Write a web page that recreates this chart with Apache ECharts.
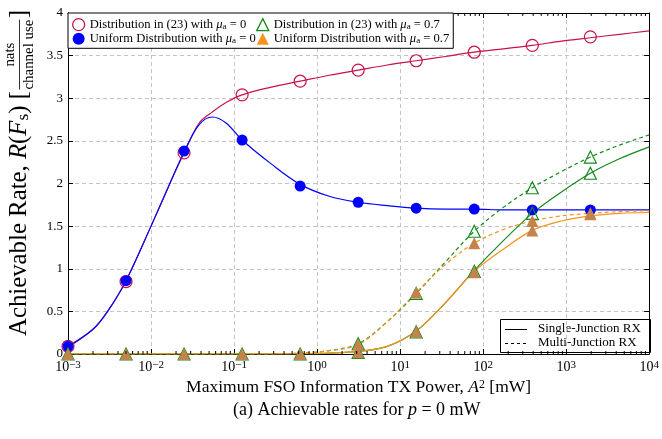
<!DOCTYPE html>
<html>
<head>
<meta charset="utf-8">
<script src="https://cdn.jsdelivr.net/npm/echarts@6/dist/echarts.min.js"></script>
<style>
  html, body { margin: 0; padding: 0; background: #fff; }
  #chart { width: 662px; height: 439px; }
</style>
</head>
<body>
<div id="chart"></div>
<script>
// x where the markers sit (mW)
var markerX = [0.001, 0.005, 0.025, 0.125, 0.625, 3.125, 15.6, 78.1, 390.6, 1953];
var curveX = [0.001, 0.002, 0.003, 0.005, 0.01, 0.0165, 0.025, 0.038, 0.055, 0.08, 0.125, 0.28, 0.625,
              1.4, 3.125, 7, 15.6, 35, 78.1, 175, 390.6, 875, 1953, 4375, 10000];

// curves (values at curveX)
var distMu0Line   = [0.08, 0.29, 0.50, 0.86, 1.50, 1.98, 2.36, 2.71, 2.84, 2.95, 3.04, 3.13, 3.20,
                     3.27, 3.33, 3.39, 3.44, 3.49, 3.54, 3.58, 3.62, 3.67, 3.71, 3.75, 3.79];
var unifMu0Line   = [0.09, 0.29, 0.50, 0.86, 1.50, 1.98, 2.37, 2.69, 2.78, 2.71, 2.51, 2.23, 1.99,
                     1.85, 1.78, 1.74, 1.71, 1.70, 1.70, 1.69, 1.69, 1.69, 1.69, 1.69, 1.69];
var distMu07Single = [0, 0, 0, 0, 0, 0, 0, 0, 0, 0, 0, 0, 0.003,
                      0.01, 0.03, 0.09, 0.27, 0.60, 0.98, 1.33, 1.65, 1.90, 2.12, 2.29, 2.43];
var distMu07Multi  = [0, 0, 0, 0, 0, 0, 0, 0, 0, 0, 0, 0.002, 0.01,
                      0.04, 0.12, 0.38, 0.71, 1.08, 1.44, 1.72, 1.95, 2.14, 2.31, 2.45, 2.57];
var unifMu07Single = [0, 0, 0, 0, 0, 0, 0, 0, 0, 0, 0, 0, 0.003,
                      0.01, 0.03, 0.09, 0.27, 0.60, 0.97, 1.23, 1.45, 1.56, 1.62, 1.65, 1.66];
var unifMu07Multi  = [0, 0, 0, 0, 0, 0, 0, 0, 0, 0, 0, 0.002, 0.01,
                      0.04, 0.11, 0.38, 0.72, 1.05, 1.30, 1.46, 1.56, 1.62, 1.65, 1.67, 1.68];

// markers (values at markerX)
var distMu0Pts   = [0.09, 0.85, 2.36, 3.04, 3.20, 3.33, 3.44, 3.54, 3.62, 3.72];
var unifMu0Pts   = [0.09, 0.86, 2.38, 2.51, 1.97, 1.78, 1.71, 1.70, 1.69, 1.69];
var distMu07SinglePts = [0, 0, 0, 0, 0, 0.02, 0.26, 0.97, 1.65, 2.12];
var distMu07MultiPts  = [null, null, null, null, null, 0.12, 0.71, 1.44, 1.95, 2.31];
var unifMu07SinglePts = [0, 0, 0, 0, 0, 0.02, 0.26, 0.96, 1.45, 1.64];
var unifMu07MultiPts  = [null, null, null, null, null, 0.11, 0.72, 1.30, 1.56, 1.65];

var yTicks = [0, 0.5, 1, 1.5, 2, 2.5, 3, 3.5, 4];
var minorMult = [2, 3, 4, 5, 6, 7, 8, 9];
var decades = [0.001, 0.01, 0.1, 1, 10, 100, 1000];

var nameDist0 = 'Distribution in (23) with μa = 0';
var nameUnif0 = 'Uniform Distribution with μa = 0';
var nameDist07 = 'Distribution in (23) with μa = 0.7';
var nameUnif07 = 'Uniform Distribution with μa = 0.7';
var rxNames = ['Single-Junction RX', 'Multi-Junction RX'];

var serif = 'Liberation Serif';
var RED = '#c8124a', BLUE = '#0000ff', GREEN = '#13891a', ORANGE = '#f7931e', BROWN = '#c4834c';

function pairs(xs, ys) {
  var out = [];
  for (var i = 0; i < xs.length; i++) {
    if (ys[i] != null) out.push([xs[i], ys[i]]);
  }
  return out;
}

var minorTicks = [];
decades.forEach(function (d) {
  minorMult.forEach(function (m) { minorTicks.push([d * m, 0]); });
});

var LF = 12.6;
var legendRich = {
  t: { fontFamily: serif, fontSize: LF, color: '#000' },
  i: { fontFamily: serif, fontSize: LF, fontStyle: 'italic', color: '#000' },
  s: { fontFamily: serif, fontSize: 9, color: '#000', verticalAlign: 'bottom' }
};
var legendText = {};
legendText[nameDist0] = '{t|Distribution in (23) with }{i|μ}{s|a}{t| = 0}';
legendText[nameUnif0] = '{t|Uniform Distribution with }{i|μ}{s|a}{t| = 0}';
legendText[nameDist07] = '{t|Distribution in (23) with }{i|μ}{s|a}{t| = 0.7}';
legendText[nameUnif07] = '{t|Uniform Distribution with }{i|μ}{s|a}{t| = 0.7}';

var myChart = echarts.init(document.getElementById('chart'));

// y axis title with the fraction, laid out by hand and sized to run from y=336 up to y=6
var ctx = document.createElement('canvas').getContext('2d');
function tw(font, s) { ctx.font = font; return ctx.measureText(s).width; }
function titleParts(f) {
  var fs = Math.round(f * 0.7 * 10) / 10, ff = Math.round(f * 0.6 * 10) / 10;
  var left = tw(f + 'px "' + serif + '"', 'Achievable Rate, ') + tw('italic ' + f + 'px "' + serif + '"', 'R')
           + tw(f + 'px "' + serif + '"', '(') + tw('italic ' + f + 'px "' + serif + '"', 'F')
           + tw(fs + 'px "' + serif + '"', 's') + tw(f + 'px "' + serif + '"', ') [');
  var frac = tw(ff + 'px "' + serif + '"', 'channel use');
  var close = tw(f + 'px "' + serif + '"', ']');
  return { f: f, fs: fs, ff: ff, left: left, frac: frac, total: left + frac + 3 + close };
}
var tp = titleParts(10);
tp = titleParts(Math.round(10 * 330 / tp.total * 10) / 10);

var yTitle = {
  type: 'group',
  x: 19,
  y: 336,
  rotation: Math.PI / 2,
  children: [
    { type: 'text', x: 0, y: 0, style: {
        text: '{t|Achievable Rate, }{i|R}{t|(}{i|F}{s|s}{t|) [}',
        rich: {
          t: { fontFamily: serif, fontSize: tp.f, fill: '#000' },
          i: { fontFamily: serif, fontSize: tp.f, fontStyle: 'italic', fill: '#000' },
          s: { fontFamily: serif, fontSize: tp.fs, fill: '#000', verticalAlign: 'bottom' }
        },
        verticalAlign: 'middle', align: 'left' } },
    { type: 'text', x: tp.left + 1.5 + tp.frac / 2, y: -tp.ff * 0.6, style: {
        text: 'nats', fontFamily: serif, fontSize: tp.ff, fill: '#000', align: 'center', verticalAlign: 'middle' } },
    { type: 'line', shape: { x1: tp.left + 1.5, y1: 0.5, x2: tp.left + 1.5 + tp.frac, y2: 0.5 },
      style: { stroke: '#000', lineWidth: 0.8 } },
    { type: 'text', x: tp.left + 1.5 + tp.frac / 2, y: tp.ff * 0.7, style: {
        text: 'channel use', fontFamily: serif, fontSize: tp.ff, fill: '#000', align: 'center', verticalAlign: 'middle' } },
    { type: 'text', x: tp.left + 3 + tp.frac, y: 0, style: {
        text: ']', fontFamily: serif, fontSize: tp.f, fill: '#000', align: 'left', verticalAlign: 'middle' } }
  ]
};

// legend for the receiver line styles
var rxLegend = {
  type: 'group',
  x: 500,
  y: 319,
  z: 100,
  children: [
    { type: 'rect', shape: { x: 0.5, y: 0.5, width: 150, height: 33 },
      style: { fill: '#fff', stroke: '#000', lineWidth: 1 } },
    { type: 'line', shape: { x1: 5, y1: 10.5, x2: 27, y2: 10.5 },
      style: { stroke: '#000', lineWidth: 1 } },
    { type: 'line', shape: { x1: 5, y1: 24.5, x2: 27, y2: 24.5 },
      style: { stroke: '#000', lineWidth: 1, lineDash: [3, 3] } },
    { type: 'text', x: 38, y: 10, style: { text: rxNames[0], fontFamily: serif, fontSize: 13,
        fill: '#000', verticalAlign: 'middle' } },
    { type: 'text', x: 38, y: 24, style: { text: rxNames[1], fontFamily: serif, fontSize: 13,
        fill: '#000', verticalAlign: 'middle' } }
  ]
};

function expLabel(v) {
  var e = Math.round(Math.log(v) / Math.LN10);
  return '{b|10}{e|' + (e < 0 ? '−' + (-e) : e) + '}';
}

function curve(name, xs, ys, color, dashed) {
  return {
    name: name, type: 'line', smooth: 0.35, symbol: 'none', z: 2,
    lineStyle: { color: color, width: 1.2, type: dashed ? [4, 3] : 'solid' },
    data: pairs(xs, ys)
  };
}

myChart.setOption({
  animation: false,
  backgroundColor: '#fff',
  title: {
    text: '(a) Achievable rates for {i|p} = 0 mW',
    left: 228,
    top: 396,
    textStyle: {
      fontFamily: serif, fontSize: 18, fontWeight: 'normal', color: '#000',
      rich: {
        i: { fontFamily: serif, fontSize: 18, fontStyle: 'italic', color: '#000' }
      }
    }
  },
  graphic: [yTitle, rxLegend],
  grid: { left: 68, right: 10, top: 13, bottom: 85 },
  legend: {
    orient: 'vertical',
    left: 68,
    top: 13,
    height: 31,
    padding: [5, 4, 3, 4],
    itemGap: 1,
    itemWidth: 12,
    itemHeight: 12,
    backgroundColor: '#fff',
    borderColor: '#000',
    borderWidth: 1,
    borderRadius: 0,
    z: 10,
    selectedMode: false,
    formatter: function (name) { return legendText[name]; },
    textStyle: { fontFamily: serif, fontSize: LF, color: '#000', rich: legendRich },
    data: [
      { name: nameDist0, icon: 'circle', itemStyle: { color: 'transparent', borderColor: RED, borderWidth: 1.3 } },
      { name: nameUnif0, icon: 'circle', itemStyle: { color: BLUE, borderWidth: 0 } },
      { name: nameDist07, icon: 'triangle', itemStyle: { color: 'transparent', borderColor: GREEN, borderWidth: 1.3 } },
      { name: nameUnif07, icon: 'triangle', itemStyle: { color: ORANGE, borderWidth: 0 } }
    ]
  },
  xAxis: [
    {
      type: 'log',
      logBase: 10,
      min: 0.001,
      max: 10000,
      axisLine: { onZero: false, lineStyle: { color: '#000', width: 1 } },
      axisTick: { inside: true, length: 5, lineStyle: { color: '#000' } },
      axisLabel: {
        margin: 6,
        formatter: expLabel,
        rich: {
          b: { fontFamily: serif, fontSize: 14, color: '#000' },
          e: { fontFamily: serif, fontSize: 11, color: '#000', verticalAlign: 'top' }
        }
      },
      splitLine: { show: true, lineStyle: { color: '#c4c4c4', type: [4, 3], width: 1 } },
      name: 'Maximum FSO Information TX Power, {i|A}{e|2} [mW]',
      nameLocation: 'middle',
      nameGap: 21,
      nameTextStyle: {
        fontFamily: serif, fontSize: 17.5, color: '#000',
        rich: {
          i: { fontFamily: serif, fontSize: 17.5, fontStyle: 'italic', color: '#000' },
          e: { fontFamily: serif, fontSize: 12, color: '#000', verticalAlign: 'top' }
        }
      }
    },
    {
      type: 'log',
      logBase: 10,
      min: 0.001,
      max: 10000,
      position: 'top',
      axisLine: { onZero: false, lineStyle: { color: '#000', width: 1 } },
      axisTick: { inside: true, length: 5, lineStyle: { color: '#000' } },
      axisLabel: { show: false },
      splitLine: { show: false }
    }
  ],
  yAxis: [
    {
      type: 'value',
      min: yTicks[0],
      max: yTicks[yTicks.length - 1],
      interval: 0.5,
      axisLine: { show: true, onZero: false, lineStyle: { color: '#000', width: 1 } },
      axisTick: { show: true, inside: true, length: 5, lineStyle: { color: '#000' } },
      axisLabel: { margin: 5, fontFamily: serif, fontSize: 13, color: '#000',
                   formatter: function (v) { return String(v); } },
      splitLine: { show: true, lineStyle: { color: '#c4c4c4', type: [4, 3], width: 1 } }
    },
    {
      type: 'value',
      position: 'right',
      min: yTicks[0],
      max: yTicks[yTicks.length - 1],
      interval: 0.5,
      axisLine: { show: true, onZero: false, lineStyle: { color: '#000', width: 1 } },
      axisTick: { show: true, inside: true, length: 5, lineStyle: { color: '#000' } },
      axisLabel: { show: false },
      splitLine: { show: false }
    }
  ],
  series: [
    // minor ticks of the log axis, bottom and top
    {
      type: 'custom',
      silent: true,
      z: 6,
      data: minorTicks,
      renderItem: function (params, api) {
        var x = api.coord([api.value(0), 0])[0];
        var cs = params.coordSys;
        return {
          type: 'group',
          children: [
            { type: 'line', shape: { x1: x, y1: cs.y + cs.height, x2: x, y2: cs.y + cs.height - 3 },
              style: { stroke: '#000', lineWidth: 1 } },
            { type: 'line', shape: { x1: x, y1: cs.y, x2: x, y2: cs.y + 3 },
              style: { stroke: '#000', lineWidth: 1 } }
          ]
        };
      }
    },
    curve('distMu0Line', curveX, distMu0Line, RED, false),
    curve('unifMu0Line', curveX, unifMu0Line, BLUE, false),
    curve('distMu07Single', curveX, distMu07Single, GREEN, false),
    curve('distMu07Multi', curveX, distMu07Multi, GREEN, true),
    curve('unifMu07Single', curveX, unifMu07Single, ORANGE, false),
    curve('unifMu07Multi', curveX, unifMu07Multi, ORANGE, true),
    { name: nameDist0, type: 'scatter', symbol: 'circle', symbolSize: 12, clip: false, z: 3,
      itemStyle: { color: 'transparent', borderColor: RED, borderWidth: 1.2, opacity: 1 },
      data: pairs(markerX, distMu0Pts) },
    { name: nameUnif0, type: 'scatter', symbol: 'circle', symbolSize: 11, clip: false, z: 3,
      itemStyle: { color: BLUE, opacity: 1 },
      data: pairs(markerX, unifMu0Pts) },
    { name: nameDist07, type: 'scatter', symbol: 'triangle', symbolSize: 12, clip: false, z: 3,
      itemStyle: { color: 'transparent', borderColor: GREEN, borderWidth: 1.2, opacity: 1 },
      data: pairs(markerX, distMu07SinglePts).concat(pairs(markerX, distMu07MultiPts)) },
    { name: nameUnif07, type: 'scatter', symbol: 'triangle', symbolSize: 12, clip: false, z: 3,
      itemStyle: { color: BROWN, opacity: 1 },
      data: pairs(markerX, unifMu07SinglePts).concat(pairs(markerX, unifMu07MultiPts)) }
  ]
});
</script>
</body>
</html>
